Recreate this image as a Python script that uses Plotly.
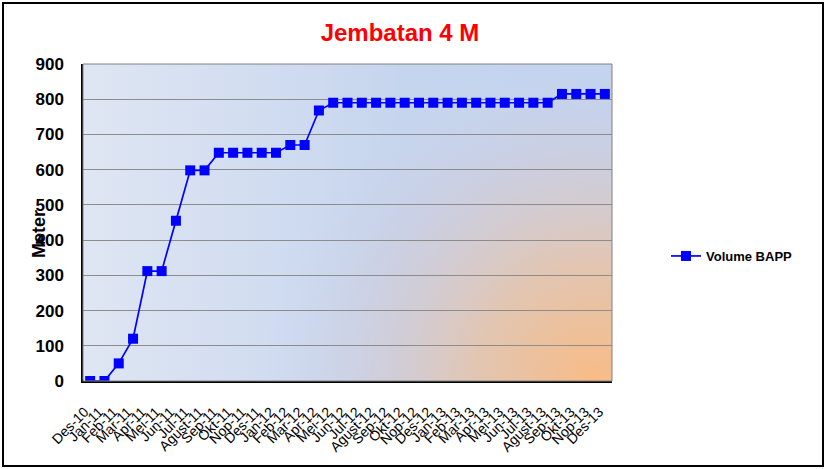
import plotly.graph_objects as go
import base64

categories = ["Des-10", "Jan-11", "Feb-11", "Mar-11", "Apr-11", "Mei-11", "Jun-11", "Jul-11",
              "Agust-11", "Sep-11", "Okt-11", "Nop-11", "Des-11", "Jan-12", "Feb-12", "Mar-12",
              "Apr-12", "Mei-12", "Jun-12", "Jul-12", "Agust-12", "Sep-12", "Okt-12", "Nop-12",
              "Des-12", "Jan-13", "Feb-13", "Mar-13", "Apr-13", "Mei-13", "Jun-13", "Jul-13",
              "Agust-13", "Sep-13", "Okt-13", "Nop-13", "Des-13"]
volume_bapp = [0, 0, 50, 120, 312, 312, 455, 598, 598, 648, 648, 648, 648, 648, 670, 670,
               768, 790, 790, 790, 790, 790, 790, 790, 790, 790, 790, 790, 790, 790, 790, 790,
               790, 815, 815, 815, 815]
y_ticks = [0, 100, 200, 300, 400, 500, 600, 700, 800, 900]

svg = """<svg xmlns='http://www.w3.org/2000/svg' width='529' height='317' viewBox='0 0 529 317' preserveAspectRatio='none'>
<defs>
<linearGradient id='lg' x1='0' y1='0' x2='1' y2='0'>
<stop offset='0' stop-color='#dfe6f3'/>
<stop offset='0.6' stop-color='#c6d5ee'/>
<stop offset='1' stop-color='#c3d4ef'/>
</linearGradient>
<radialGradient id='rg' cx='510' cy='317' r='330' gradientUnits='userSpaceOnUse'>
<stop offset='0' stop-color='#f8bb85' stop-opacity='1'/>
<stop offset='0.35' stop-color='#e8c3a6' stop-opacity='0.85'/>
<stop offset='0.75' stop-color='#d2c8d4' stop-opacity='0.35'/>
<stop offset='1' stop-color='#c8d2ea' stop-opacity='0'/>
</radialGradient>
</defs>
<rect width='529' height='317' fill='url(#lg)'/>
<rect width='529' height='317' fill='url(#rg)'/>
</svg>"""
bg_uri = "data:image/svg+xml;base64," + base64.b64encode(svg.encode()).decode()

fig = go.Figure()
fig.add_trace(go.Scatter(
    x=categories, y=volume_bapp, mode="lines+markers", name="Volume BAPP",
    line=dict(color="#0000ff", width=1.7),
    marker=dict(symbol="square", size=10, color="#0000ff", line=dict(color="#0000ff", width=0)),
))

fig.update_layout(
    width=827, height=469,
    margin=dict(l=83, r=215, t=64, b=88),
    paper_bgcolor="white", plot_bgcolor="rgba(0,0,0,0)",
    font=dict(family="Liberation Sans, Arial, sans-serif", color="black"),
    title=dict(text="Jembatan 4 M", x=400/827, xanchor="center", y=1-33/469, yanchor="middle",
               font=dict(size=24, color="#ff0000", weight="bold")),
    showlegend=True,
    legend=dict(x=(666-83)/529, xanchor="left", y=(381-256)/317, yanchor="middle",
                font=dict(size=13, weight="bold"), bgcolor="rgba(0,0,0,0)", itemwidth=30),
    images=[dict(source=bg_uri, xref="paper", yref="paper", x=0, y=1, sizex=1, sizey=1,
                 sizing="stretch", layer="below", xanchor="left", yanchor="top")],
    shapes=[
        dict(type="rect", xref="paper", yref="paper", x0=0, x1=1, y0=0, y1=1,
             line=dict(color="#808080", width=1), fillcolor="rgba(0,0,0,0)", layer="above"),
        dict(type="rect", xref="paper", yref="paper",
             x0=(3-83)/529, x1=(823-83)/529, y0=(381-466)/317, y1=(381-3)/317,
             line=dict(color="black", width=2), fillcolor="rgba(0,0,0,0)"),
    ],
    annotations=[dict(text="Meter", textangle=-90, xref="paper", yref="paper",
                      x=(39-83)/529, y=(381-234)/317, xanchor="center", yanchor="middle",
                      showarrow=False, font=dict(size=18, weight="bold"))],
)
fig.update_xaxes(
    type="category", tickmode="array", tickvals=categories,
    ticktext=[c + "\u00a0\u00a0" for c in categories],
    tickangle=-45, tickfont=dict(size=14, color="black"),
    showgrid=False, showline=True, linecolor="black", linewidth=1.5,
    ticks="", range=[-0.5, len(categories) - 0.5], ticklabelstandoff=10, automargin=False,
)
fig.update_yaxes(
    range=[0, 900], tickvals=y_ticks, tickfont=dict(size=17, color="black", weight="bold"),
    showgrid=True, gridcolor="#8c8c8c", gridwidth=1, zeroline=False,
    showline=True, linecolor="black", linewidth=1.5, ticks="", ticklabelstandoff=14,
    automargin=False,
)
fig.write_html("out.html", post_script="document.body.style.margin='0';",
               config={"displayModeBar": False})
